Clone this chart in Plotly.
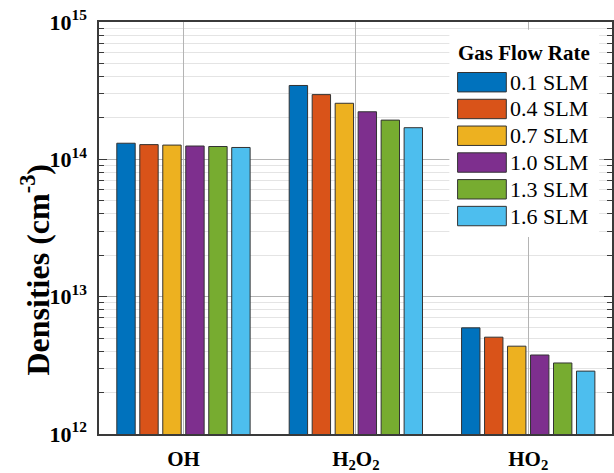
import plotly.graph_objects as go

categories = ["OH", "H<sub>2</sub>O<sub>2</sub>", "HO<sub>2</sub>"]
series_names = ["0.1 SLM", "0.4 SLM", "0.7 SLM", "1.0 SLM", "1.3 SLM", "1.6 SLM"]
colors = ["#0072BD", "#D95319", "#EDB120", "#7E2F8E", "#77AC30", "#4DBEEE"]

flow_01 = [1.31e14, 3.45e14, 5.93e12]
flow_04 = [1.28e14, 2.96e14, 5.07e12]
flow_07 = [1.27e14, 2.56e14, 4.36e12]
flow_10 = [1.25e14, 2.22e14, 3.76e12]
flow_13 = [1.24e14, 1.93e14, 3.29e12]
flow_16 = [1.22e14, 1.70e14, 2.87e12]
series_values = [flow_01, flow_04, flow_07, flow_10, flow_13, flow_16]

major_tickvals = [1e12, 1e13, 1e14, 1e15]
major_ticktext = ["10<sup>12</sup>", "10<sup>13</sup>", "10<sup>14</sup>", "10<sup>15</sup>"]
minor_tickvals = [m * d for d in [1e12, 1e13, 1e14] for m in range(2, 10)]

FONT = "Liberation Serif, Times New Roman, serif"

fig = go.Figure()
for name, vals, col in zip(series_names, series_values, colors):
    fig.add_trace(go.Bar(
        x=categories, y=vals, name=name,
        marker=dict(color=col, line=dict(color="#333333", width=1)),
        showlegend=False,
    ))

# custom legend (MATLAB-like wide swatches)
lg_x0, lg_x1 = 0.683, 0.975
lg_top, lg_bot = 0.981, 0.478
fig.add_shape(type="rect", xref="paper", yref="paper", x0=lg_x0, x1=lg_x1,
              y0=lg_bot, y1=lg_top, fillcolor="white", line=dict(width=0), layer="above")
fig.add_annotation(xref="paper", yref="paper", x=(lg_x0 + lg_x1) / 2, y=0.924,
                   text="<b>Gas Flow Rate</b>", showarrow=False,
                   font=dict(family=FONT, size=21, color="black"),
                   xanchor="center", yanchor="middle")
plot_h = 414.0
for i, (name, col) in enumerate(zip(series_names, colors)):
    yc_px = 82.5 + 26.9 * i - 22
    yc = 1 - yc_px / plot_h
    h = 19.5 / plot_h
    fig.add_shape(type="rect", xref="paper", yref="paper",
                  x0=0.699, x1=0.794, y0=yc - h / 2, y1=yc + h / 2,
                  fillcolor=col, line=dict(color="#333333", width=1), layer="above")
    fig.add_annotation(xref="paper", yref="paper", x=0.797, y=yc,
                       text=name, showarrow=False,
                       font=dict(family=FONT, size=22, color="black"),
                       xanchor="left", yanchor="middle")

# y-axis title
fig.add_annotation(xref="paper", yref="paper", x=-0.125, y=0.399,
                   text="<b>Densities (cm<sup>-3</sup>)</b>", showarrow=False,
                   textangle=-90, font=dict(family=FONT, size=32, color="black"),
                   xanchor="center", yanchor="middle")

fig.update_layout(
    width=614, height=473,
    margin=dict(l=99, r=0, t=22, b=37),
    paper_bgcolor="white", plot_bgcolor="white",
    barmode="group", bargap=0.2, bargroupgap=0.2,
    font=dict(family=FONT, color="black"),
    showlegend=False,
)
fig.update_xaxes(
    type="category", range=[-0.49, 2.486],
    showgrid=True, gridcolor="#b4b4b4", gridwidth=1,
    showline=True, linecolor="#3a3a3a", linewidth=1.5, mirror=True,
    ticks="", ticklabelstandoff=5,
    tickfont=dict(family=FONT, size=21, color="black", weight="bold"),
)
fig.update_yaxes(
    type="log", range=[12, 15],
    tickmode="array", tickvals=major_tickvals, ticktext=major_ticktext,
    tickfont=dict(family=FONT, size=22, color="black", weight="bold"),
    ticks="inside", ticklen=8, tickcolor="#3a3a3a", tickwidth=1,
    showgrid=True, gridcolor="#b4b4b4", gridwidth=1,
    minor=dict(tickvals=minor_tickvals, ticks="inside", ticklen=5,
               tickcolor="#3a3a3a", showgrid=True, gridcolor="#e4e4e4", gridwidth=1),
    showline=True, linecolor="#3a3a3a", linewidth=1.5, mirror="ticks",
    ticklabelstandoff=6,
)

fig.write_html("out.html")
